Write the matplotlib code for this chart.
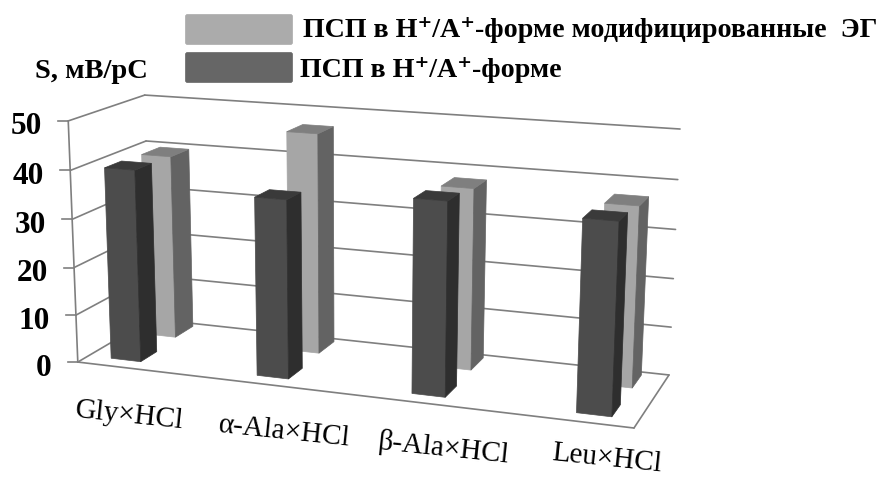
import numpy as np
import matplotlib
matplotlib.use('Agg')
import matplotlib.pyplot as plt
from matplotlib.patches import Polygon, FancyBboxPatch

plt.rcParams['font.family'] = ['Liberation Serif', 'DejaVu Serif']

categories = ['Gly×HCl', 'α-Ala×HCl', 'β-Ala×HCl', 'Leu×HCl']
dark_vals = [40, 36.5, 38.8, 37.6]
light_vals = [39.3, 46.3, 37.5, 36.6]
yticks = [0, 10, 20, 30, 40, 50]
legend_light = 'ПСП в H⁺/A⁺-форме модифицированные  ЭГ'
legend_dark = 'ПСП в H⁺/A⁺-форме'
ylabel = 'S, мВ/pC'

# camera fit: (category pos, depth, value) -> pixel
calib = [((0, 0, 0), (78, 362)), ((0, 0, 50), (68, 121)),
         ((0, 1, 0), (151, 319)), ((0, 1, 50), (145, 95)),
         ((4, 1, 0), (669, 375)), ((4, 1, 50), (680, 129)),
         ((4, 0, 0), (634, 428))]

A = []
b = []
for (x, d, v), (u, w) in calib:
    A.append([x, d, v, 1, 0, 0, 0, 0, -u * x, -u * d, -u * v])
    b.append(u)
    A.append([0, 0, 0, 0, x, d, v, 1, -w * x, -w * d, -w * v])
    b.append(w)
P = np.linalg.lstsq(np.array(A, float), np.array(b, float), rcond=None)[0]
P = np.append(P, 1).reshape(3, 4)


def proj(x, d, v):
    p = P @ np.array([x, d, v, 1.0])
    return p[0] / p[2], p[1] / p[2]


fig = plt.figure(figsize=(8.82, 4.78), dpi=100)
ax = fig.add_axes([0, 0, 1, 1])
ax.set_xlim(0, 882)
ax.set_ylim(478, 0)
ax.axis('off')

grid = '#7f7f7f'


def line(a, b):
    ax.plot(*zip(proj(*a), proj(*b)), color=grid, lw=1.2, zorder=1, solid_capstyle='round')


for t in yticks:
    line((0, 0, t), (0, 1, t))
    line((0, 1, t), (4, 1, t))
    fx, fy = proj(0, 0, t)
    ax.plot([fx - 10, fx], [fy, fy], color=grid, lw=1.2, zorder=1)
    ax.text(fx - 26, fy + 6, str(t), ha='right', va='center', fontsize=22.5, fontweight='bold', color='black')
line((0, 0, 0), (0, 0, 50))
line((0, 0, 0), (4, 0, 0))
line((4, 0, 0), (4, 1, 0))


def bar(x0, x1, d0, d1, val, cols, z):
    front = [proj(x0, d0, 0), proj(x1, d0, 0), proj(x1, d0, val), proj(x0, d0, val)]
    side = [proj(x1, d0, 0), proj(x1, d1, 0), proj(x1, d1, val), proj(x1, d0, val)]
    top = [proj(x0, d0, val), proj(x1, d0, val), proj(x1, d1, val), proj(x0, d1, val)]
    for poly, c in zip((front, side, top), cols):
        ax.add_patch(Polygon(poly, closed=True, fc=c, ec=c, lw=0.5, zorder=z))


dark_cols = ('#4c4c4c', '#2e2e2e', '#3a3a3a')
light_cols = ('#a6a6a6', '#636363', '#7f7f7f')
bar_w = 0.235
for i in range(len(categories)):
    x0 = 0.15 + 1.145 * i
    bar(x0, x0 + bar_w, 0.68, 0.94, light_vals[i], light_cols, 2 + i)
for i in range(len(categories)):
    x0 = 0.18 + 1.135 * i
    bar(x0, x0 + bar_w, 0.14, 0.36, dark_vals[i], dark_cols, 10 + i)

# category labels follow the floor edge
label_pos = [(129, 416), (284, 432), (443, 448), (607, 459)]
for name, (lx, ly) in zip(categories, label_pos):
    ax.text(lx, ly, name, ha='center', va='center', rotation=-6, rotation_mode='anchor', fontsize=21, color='black')

ax.add_patch(FancyBboxPatch((187, 16), 104, 27, boxstyle='round,pad=1.5,rounding_size=2', fc='#ababab', ec='#ababab', lw=0.5))
ax.add_patch(FancyBboxPatch((187, 54), 104, 27, boxstyle='round,pad=1.5,rounding_size=2', fc='#666666', ec='#666666', lw=0.5))
ax.text(303, 30, legend_light, ha='left', va='center', fontsize=20.2, fontweight='bold', color='black')
ax.text(300, 70, legend_dark, ha='left', va='center', fontsize=20.2, fontweight='bold', color='black')
ax.text(35, 71, ylabel, ha='left', va='center', fontsize=20.5, fontweight='bold', color='black')

fig.savefig('out.png', dpi=100)
